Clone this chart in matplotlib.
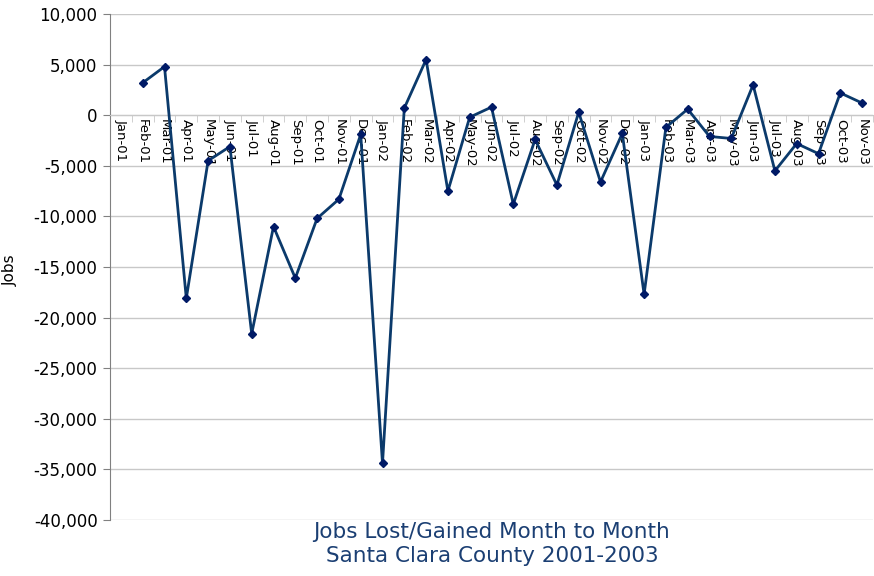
import numpy as np
import matplotlib
matplotlib.use("Agg")
import matplotlib.pyplot as plt
from matplotlib.ticker import FuncFormatter

months = ["Jan-01", "Feb-01", "Mar-01", "Apr-01", "May-01", "Jun-01", "Jul-01",
          "Aug-01", "Sep-01", "Oct-01", "Nov-01", "Dec-01",
          "Jan-02", "Feb-02", "Mar-02", "Apr-02", "May-02", "Jun-02", "Jul-02",
          "Aug-02", "Sep-02", "Oct-02", "Nov-02", "Dec-02",
          "Jan-03", "Feb-03", "Mar-03", "Apr-03", "May-03", "Jun-03", "Jul-03",
          "Aug-03", "Sep-03", "Oct-03", "Nov-03"]
# Jan-01 has no value (first month of the series)
jobs = [np.nan, 3200, 4800, -18100, -4500, -3100, -21600,
        -11000, -16100, -10200, -8300, -1900,
        -34400, 700, 5500, -7500, -200, 800, -8800,
        -2400, -6900, 300, -6600, -1800,
        -17700, -1200, 600, -2100, -2300, 3000, -5500,
        -2800, -3800, 2200, 1200]

NAVY = "#0B3A6B"
TITLE = "#1B3F73"

fig = plt.figure(figsize=(8.74, 5.76), dpi=100)
ax = fig.add_axes([110 / 874, 1 - 520 / 576, 763 / 874, 506 / 576])

x = np.arange(len(months))
ax.plot(x, jobs, color=NAVY, linewidth=2.0, marker="D", markersize=4.5,
        markerfacecolor="#001A66", markeredgecolor="#001A66", zorder=3)

ax.set_xlim(-0.5, len(months) - 0.5)
ax.set_ylim(-40000, 10000)
ax.set_yticks(np.arange(-40000, 10001, 5000))
ax.yaxis.set_major_formatter(FuncFormatter(lambda v, p: f"{int(v):,}"))
ax.grid(axis="y", color="#C8C8C8", linewidth=1.0)
ax.set_axisbelow(True)

for s in ["top", "right"]:
    ax.spines[s].set_visible(False)
ax.spines["left"].set_color("#808080")
ax.spines["bottom"].set_position(("data", 0))
ax.spines["bottom"].set_color("#C8C8C8")

ax.tick_params(axis="y", length=5, color="#808080", labelsize=12, pad=4)
ax.set_xticks(x)
ax.set_xticklabels(months, rotation=-90, fontsize=9.5, va="top", ha="center")
ax.tick_params(axis="x", which="major", length=0, pad=3)
ax.set_xticks(np.arange(-0.5, len(months), 1), minor=True)
ax.tick_params(axis="x", which="minor", length=5, color="#C8C8C8")

ax.set_ylabel("Jobs", fontsize=11)
ax.yaxis.set_label_coords(-92 / 763, (520 - 270) / 506)

fig.text((110 + 874) / 2 / 874, 1 - 544 / 576,
         "Jobs Lost/Gained Month to Month\nSanta Clara County 2001-2003",
         ha="center", va="center", fontsize=15.5, color=TITLE, linespacing=1.25)

fig.savefig("out.png", dpi=100)
